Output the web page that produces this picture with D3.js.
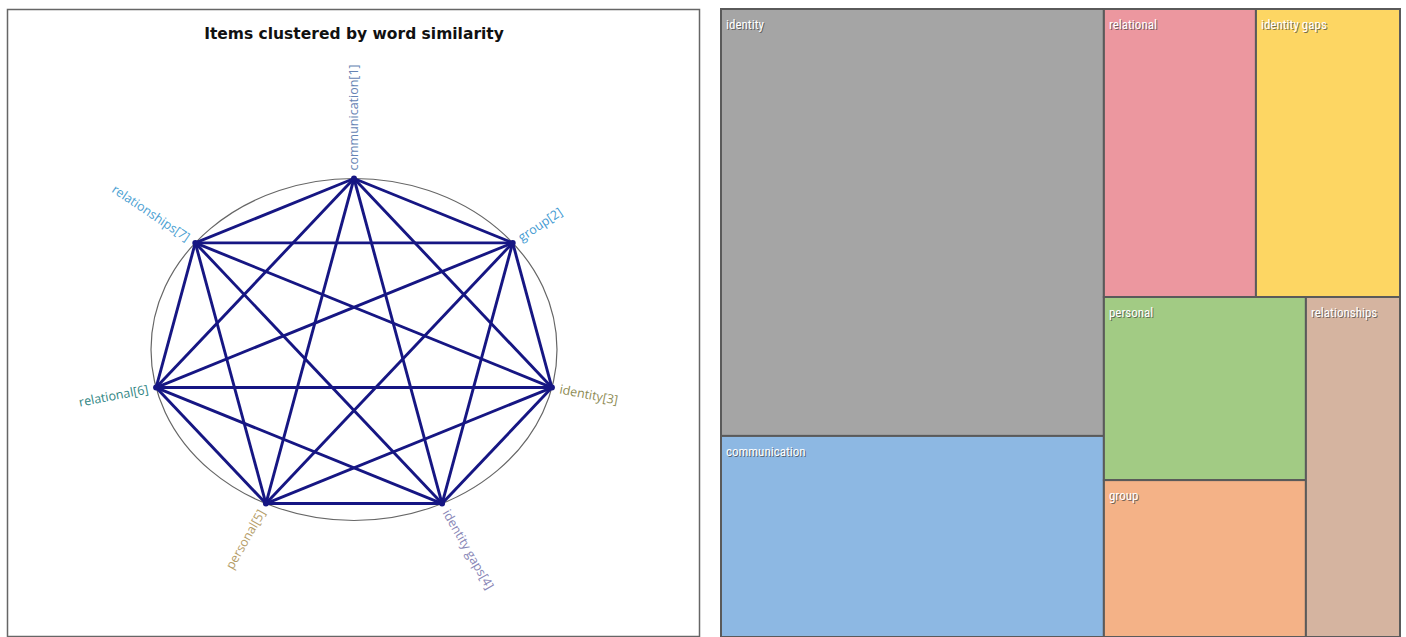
<!DOCTYPE html>
<html lang="en">
<head>
<meta charset="utf-8">
<title>Items clustered by word similarity</title>
<script src="https://cdn.jsdelivr.net/npm/d3@7"></script>
<style>
  body { margin: 0; background: #fff; }
  .title { font-family: "DejaVu Sans", Verdana, sans-serif; font-weight: bold; font-size: 15.5px; fill: #111; }
  .node-label { font-family: "Open Sans", "Noto Sans", sans-serif; font-size: 12.5px; }
  .tm-label { font-family: "Liberation Sans Narrow", "Roboto Condensed", "Liberation Sans", sans-serif; font-size: 13px; }
</style>
</head>
<body>
<svg id="chart" width="1406" height="637"></svg>
<script>
// ---- data ----
// items shown around the ellipse, in clockwise order starting at the top
var items = ["communication", "group", "identity", "identity gaps", "personal", "relational", "relationships"];
var itemColors = ["#6684b4", "#3f9ad2", "#8c8a52", "#8886b6", "#b49c66", "#2f8583", "#4aa0d2"];

// treemap cells: name, value, and the branch they sit in
var tmNames  = ["identity", "communication", "relational", "identity gaps", "personal", "group", "relationships"];
var tmValues = [163.5, 77, 43.8, 41.5, 37, 31.7, 32];
var tmBranch = ["left", "left", "right/top", "right/top", "right/bottom/stack", "right/bottom/stack", "right/bottom"];
var tmColors = ["#a5a5a5", "#8db8e3", "#ec979f", "#fdd663", "#a2cb84", "#f4b287", "#d5b4a0"];

var svg = d3.select("#chart");

//////////////////////////////////////
// left panel : circular similarity graph
var panel = { x: 7.5, y: 9.5, w: 692, h: 627 };
svg.append("rect")
  .attr("x", panel.x).attr("y", panel.y)
  .attr("width", panel.w).attr("height", panel.h)
  .attr("fill", "#fff").attr("stroke", "#666").attr("stroke-width", 1.5);

svg.append("text").attr("class", "title")
  .attr("x", 354).attr("y", 39)
  .attr("text-anchor", "middle")
  .text("Items clustered by word similarity");

var cx = 354, cy = 349.5, rx = 203, ry = 171;

// angle of each item around the ellipse
var angle = d3.scaleLinear()
  .domain([0, items.length])
  .range([-Math.PI / 2, 1.5 * Math.PI]);

var nodes = items.map(function(name, i) {
  var a = angle(i);
  return { name: name, idx: i + 1, x: cx + rx * Math.cos(a), y: cy + ry * Math.sin(a) };
});

var links = [];
nodes.forEach(function(s, i) {
  nodes.forEach(function(t, j) { if (j > i) links.push({ source: s, target: t }); });
});

var color = d3.scaleOrdinal().domain(items).range(itemColors);

svg.append("ellipse")
  .attr("cx", cx).attr("cy", cy).attr("rx", rx).attr("ry", ry)
  .attr("fill", "none").attr("stroke", "#666").attr("stroke-width", 1.2);

svg.append("g").selectAll("line")
  .data(links)
  .join("line")
  .attr("x1", function(d) { return d.source.x; })
  .attr("y1", function(d) { return d.source.y; })
  .attr("x2", function(d) { return d.target.x; })
  .attr("y2", function(d) { return d.target.y; })
  .attr("stroke", "#161683")
  .attr("stroke-width", 2.9);

svg.append("g").selectAll("circle")
  .data(nodes)
  .join("circle")
  .attr("cx", function(d) { return d.x; })
  .attr("cy", function(d) { return d.y; })
  .attr("r", 3)
  .attr("fill", "#161683");

// labels point outward, flipped on the left side so they stay readable
svg.append("g").selectAll("text")
  .data(nodes)
  .join("text")
  .attr("class", "node-label")
  .attr("fill", function(d) { return color(d.name); })
  .attr("dy", "0.35em")
  .each(function(d) {
    var deg = Math.atan2(d.y - cy, d.x - cx) * 180 / Math.PI;
    var flip = deg > 90 || deg < -90;
    d3.select(this)
      .attr("transform", "translate(" + d.x + "," + d.y + ") rotate(" + (flip ? deg - 180 : deg) + ")")
      .attr("x", flip ? -8 : 8)
      .attr("text-anchor", flip ? "end" : "start");
  })
  .text(function(d) { return d.name + "[" + d.idx + "]"; });

//////////////////////////////////////
// right panel : treemap
var tm = { x0: 721, y0: 9, x1: 1400, y1: 637 };

// nest the cells along their branch paths
var rootData = { name: "root", children: [] };
tmNames.forEach(function(name, i) {
  var parent = rootData;
  tmBranch[i].split("/").forEach(function(key) {
    var next = parent.children.find(function(c) { return c.name === "_" + key; });
    if (!next) { next = { name: "_" + key, children: [] }; parent.children.push(next); }
    parent = next;
  });
  parent.children.push({ name: name, value: tmValues[i], color: tmColors[i] });
});

var root = d3.hierarchy(rootData).sum(function(d) { return d.value || 0; });

d3.treemap()
  .tile(d3.treemapSliceDice)
  .size([tm.x1 - tm.x0, tm.y1 - tm.y0])
  .round(false)(root);

var cell = svg.append("g")
  .attr("transform", "translate(" + tm.x0 + "," + tm.y0 + ")")
  .selectAll("g")
  .data(root.leaves())
  .join("g")
  .attr("transform", function(d) { return "translate(" + d.x0 + "," + d.y0 + ")"; });

cell.append("rect")
  .attr("width", function(d) { return d.x1 - d.x0; })
  .attr("height", function(d) { return d.y1 - d.y0; })
  .attr("fill", function(d) { return d.data.color; })
  .attr("stroke", "#5a5a5a")
  .attr("stroke-width", 2);

// soft dark shadow under the white label
cell.append("text").attr("class", "tm-label")
  .attr("x", 6).attr("y", 21)
  .attr("fill", "#444").attr("opacity", 0.7)
  .text(function(d) { return d.data.name; });
cell.append("text").attr("class", "tm-label")
  .attr("x", 5).attr("y", 20)
  .attr("fill", "#fff")
  .text(function(d) { return d.data.name; });
</script>
</body>
</html>
